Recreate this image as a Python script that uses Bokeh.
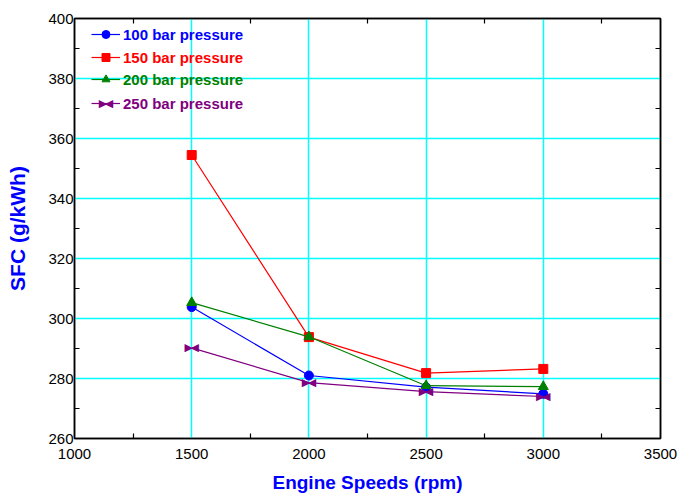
from bokeh.plotting import figure
from bokeh.models import (ColumnDataSource, FixedTicker, LinearAxis, Legend, LegendItem, Range1d, Label)
from bokeh.core.properties import value
from bokeh.embed import file_html
from bokeh.resources import INLINE

# ---- data ----
speeds = [1500, 2000, 2500, 3000]
sfc_100 = [303.8, 281.0, 277.1, 274.9]
sfc_150 = [354.5, 293.8, 281.8, 283.2]
sfc_200 = [305.3, 293.9, 277.6, 277.3]
sfc_250 = [290.2, 278.6, 275.6, 274.0]

series_names = ["100 bar pressure", "150 bar pressure", "200 bar pressure", "250 bar pressure"]
x_ticks = [1000, 1500, 2000, 2500, 3000, 3500]
x_minor = [1250, 1750, 2250, 2750, 3250]
y_ticks = [260, 280, 300, 320, 340, 360, 380, 400]
y_minor = [270, 290, 310, 330, 350, 370, 390]

FONT = "Liberation Sans"
FRAME_H = 420

p = figure(width=679, height=495, output_backend="svg", toolbar_location=None,
           x_range=Range1d(1000, 3500), y_range=Range1d(260, 400),
           min_border_left=74, min_border_right=19, min_border_top=18, min_border_bottom=57)

p.outline_line_color = "black"
p.outline_line_width = 1.5
p.background_fill_color = "white"
p.border_fill_color = "white"

def style_axis(ax, ticks, minor, labels=True):
    ax.axis_line_color = "black"
    ax.axis_line_width = 1.5
    ax.major_tick_line_color = None
    ax.minor_tick_line_color = "black"
    ax.minor_tick_line_width = 1.2
    ax.minor_tick_in = 5
    ax.minor_tick_out = 0
    ax.major_tick_in = 0
    ax.major_tick_out = 0
    if labels:
        ax.ticker = FixedTicker(ticks=ticks, minor_ticks=minor)
        ax.major_label_text_font = FONT
        ax.major_label_text_font_size = "15px"
        ax.major_label_text_color = "black"
    else:
        ax.ticker = FixedTicker(ticks=[], minor_ticks=minor)
        ax.major_label_standoff = 0

style_axis(p.xaxis[0], x_ticks, x_minor)
style_axis(p.yaxis[0], y_ticks, y_minor)
p.xaxis[0].major_label_standoff = 10
p.yaxis[0].major_label_standoff = 1

p.xaxis.axis_label = "Engine Speeds (rpm)"
p.yaxis.axis_label = "SFC (g/kWh)"
for ax, fs, so in ((p.xaxis[0], "19px", 10), (p.yaxis[0], "21px", 16)):
    ax.axis_label_text_font = FONT
    ax.axis_label_text_font_style = "bold"
    ax.axis_label_text_font_size = fs
    ax.axis_label_text_color = "#0000FF"
    ax.axis_label_standoff = so

top_ax = LinearAxis()
style_axis(top_ax, x_ticks, x_minor, labels=False)
right_ax = LinearAxis()
style_axis(right_ax, y_ticks, y_minor, labels=False)
p.add_layout(top_ax, "above")
p.add_layout(right_ax, "right")

p.xgrid.ticker = FixedTicker(ticks=x_ticks)
p.ygrid.ticker = FixedTicker(ticks=y_ticks)
for g in (p.xgrid[0], p.ygrid[0]):
    g.grid_line_color = "#00FFFF"
    g.grid_line_width = 1.5

colors = ["#0000FF", "#FF0000", "#008000", "#800080"]
src = ColumnDataSource(dict(x=speeds, s100=sfc_100, s150=sfc_150, s200=sfc_200, s250=sfc_250))

l1 = p.line("x", "s100", source=src, color=colors[0], line_width=1.2)
m1 = p.scatter("x", "s100", source=src, marker="circle", size=9, color=colors[0])
l2 = p.line("x", "s150", source=src, color=colors[1], line_width=1.2)
m2 = p.scatter("x", "s150", source=src, marker="square", size=9, color=colors[1])
l3 = p.line("x", "s200", source=src, color=colors[2], line_width=1.2)
m3 = p.scatter("x", "s200", source=src, marker="triangle", size=10, color=colors[2])
l4 = p.line("x", "s250", source=src, color=colors[3], line_width=1.2)

# bow-tie marker built from two inward-pointing triangles
BT_SIZE = "11px"
BT_OFF = 3
m4a = p.text("x", "s250", source=src, text=value("\u25b6"), text_color=colors[3],
             text_font=value("DejaVu Sans"), text_font_size=BT_SIZE,
             text_align="center", text_baseline="middle", x_offset=-BT_OFF)
m4b = p.text("x", "s250", source=src, text=value("\u25c0"), text_color=colors[3],
             text_font=value("DejaVu Sans"), text_font_size=BT_SIZE,
             text_align="center", text_baseline="middle", x_offset=BT_OFF)

rows = [(l1, m1), (l2, m2), (l3, m3), (l4, m4a)]
centers = [16, 39, 61, 85]   # legend row centres, px below frame top
for (ln, mk), name, col, cy in zip(rows, series_names, colors, centers):
    leg = Legend(items=[LegendItem(label=name, renderers=[ln, mk])],
                 location=(17, FRAME_H - cy - 10), padding=0, margin=0, spacing=0,
                 glyph_width=29, glyph_height=20, label_height=20, label_standoff=3,
                 border_line_color=None, background_fill_alpha=0,
                 label_text_font=FONT, label_text_font_style="bold",
                 label_text_font_size="15px", label_text_color=col)
    p.add_layout(leg, "center")

# bow-tie glyph in the legend row
for ch, off in (("\u25b6", -BT_OFF), ("\u25c0", BT_OFF)):
    p.add_layout(Label(x=17 + 14.5, y=FRAME_H - centers[3], x_units="screen", y_units="screen",
                       text=ch, text_color=colors[3], text_font="DejaVu Sans",
                       text_font_size=BT_SIZE, text_align="center", text_baseline="middle",
                       x_offset=off))

open("out.html", "w").write(file_html(p, INLINE))
